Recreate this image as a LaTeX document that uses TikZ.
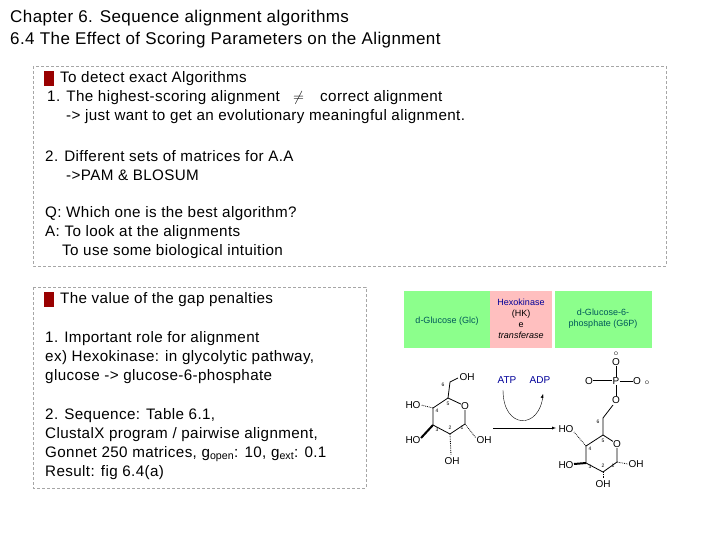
\documentclass[tikz,border=0pt]{standalone}
\usepackage{fontspec}
\setmainfont{Liberation Sans}
\newfontfamily\wide[LetterSpace=2.5]{Liberation Sans}
\begin{document}
\begin{tikzpicture}[x=1pt,y=-1pt,
  txt/.style={anchor=west,inner sep=0pt,font=\wide\fontsize{15.2}{17}\selectfont},
  head/.style={anchor=west,inner sep=0pt,font=\wide\fontsize{17}{18}\selectfont},
  dbox/.style={draw=gray!70,dashed,dash pattern=on 3pt off 2pt},
  lab/.style={inner sep=0pt,font=\fontsize{10}{11}\selectfont},
  hlab/.style={inner sep=0pt,font=\fontsize{9}{11}\selectfont},
  sm/.style={inner sep=0pt,font=\fontsize{5}{5}\selectfont},
  bond/.style={line width=0.8pt}]
\useasboundingbox (0,0) rectangle (720,540);
\node[head] (t1) at (10,18) {Chapter 6. Sequence alignment algorithms};
\node[head] (t2) at (10,40) {6.4 The Effect of Scoring Parameters on the Alignment};
\draw[dbox] (33,66) rectangle (666,266);
\fill[red!60!black] (44,71) rectangle (54,86);
\node[txt] (a1) at (60,79) {To detect exact Algorithms};
\node[txt] (a2) at (47,98) {1. The highest-scoring alignment};
\node[txt] (ne) at (293,98) {$\neq$};
\node[txt] (a2b) at (320,98) {correct alignment};
\node[txt] (a3) at (66,117) {-> just want to get an evolutionary meaningful alignment.};
\node[txt] (a4) at (45,156) {2. Different sets of matrices for A.A};
\node[txt] (a5) at (66,175) {->PAM \& BLOSUM};
\node[txt] (a6) at (45,214) {Q: Which one is the best algorithm?};
\node[txt] (a7) at (45,233) {A: To look at the alignments};
\node[txt] (a8) at (62,252) {To use some biological intuition};
\draw[dbox] (33,287) rectangle (366,488);
\fill[red!60!black] (44,292) rectangle (54,307);
\node[txt] (b1) at (60,300) {The value of the gap penalties};
\node[txt] (b2) at (45,339) {1. Important role for alignment};
\node[txt] (b3) at (45,358) {ex) Hexokinase: in glycolytic pathway,};
\node[txt] (b4) at (45,377) {glucose -> glucose-6-phosphate};
\node[txt] (b5) at (45,416) {2. Sequence: Table 6.1,};
\node[txt] (b6) at (45,435) {ClustalX program / pairwise alignment,};
\node[txt] (b7) at (45,454) {Gonnet 250 matrices, g$_{\mathrm{open}}$: 10, g$_{\mathrm{ext}}$: 0.1};
\node[txt] (b8) at (45,473) {Result: fig 6.4(a)};
% reaction header
\fill[green!45!white] (404,291) rectangle (490,348);
\fill[red!25!white] (490,291) rectangle (552,348);
\fill[green!45!white] (555,291) rectangle (652,348);
\node[hlab,text=teal!70!black] (g1) at (447,321) {\textsc{d}-Glucose (Glc)};
\node[hlab,align=center] (hk) at (521,319) {\textcolor{blue!60!black}{Hexokinase}\\(HK)\\e\\\textit{transferase}};
\node[hlab,align=center,text=teal!70!black] (g2) at (603,319) {\textsc{d}-Glucose-6-\\phosphate (G6P)};
% left glucose
\coordinate (c5) at (448,398); \coordinate (o1) at (465,406);
\coordinate (c1) at (465,424); \coordinate (c2) at (450,434);
\coordinate (c3) at (433,425); \coordinate (c4) at (433,408);
\draw[bond] (c5) -- (o1) -- (c1) -- (c2) -- (c3) -- (c4) -- (c5);
\draw[bond] (c5) -- (450,382) -- (458,378);
\node[lab] (oh6) at (467,377) {OH};
\node[lab] (oh4) at (413,405) {HO};
\node[lab] (oh3) at (413,440) {HO};
\node[lab] (oh1) at (484,440) {OH};
\node[lab] (oh2) at (452,461) {OH};
\draw[bond,densely dotted] (c4)--(421,405); \draw[line width=2pt] (c3)--(421,438);
\draw[bond,densely dotted] (c1)--(476,438); \draw[bond,densely dotted] (c2)--(451,455);
\node[sm] at (443,385) {6}; \node[sm] at (448,404) {5}; \node[sm] at (437,411) {4};
\node[sm] at (437,430) {3}; \node[sm] at (450,428) {2}; \node[sm] at (462,428) {1};
% arrow
\node[lab,text=blue!60!black] (atp) at (507,380) {ATP};
\node[lab,text=blue!60!black] (adp) at (540,380) {ADP};
\draw[-latex] (493,428) -- (556,428);
\draw (503,390) .. controls (503,430) and (540,430) .. (543,395);
\draw[-latex] (542,398) -- (543,394);
% right glucose-6-P
\coordinate (d5) at (603,435); \coordinate (p1) at (617,444);
\coordinate (d1) at (617,462); \coordinate (d2) at (603,472);
\coordinate (d3) at (586,463); \coordinate (d4) at (586,446);
\draw[bond] (d5) -- (p1) -- (d1) -- (d2) -- (d3) -- (d4) -- (d5);
\draw[bond] (d5) -- (603,418) -- (613,405);
\node[lab] (po) at (616,400) {O};
\node[lab] (p) at (616,381) {P};
\node[lab] (pot) at (616,362) {O};
\node[lab] (pdo) at (589,381) {O};
\node[lab] (pro) at (637,381) {O};
\node[sm] at (647,383) {O};
\draw (po)--(p); \draw (p)--(pot); \draw (p)--(pro);
\draw[double] (pdo)--(p);
\node[sm] at (616,354) {O};
\node[lab] (dh4) at (566,429) {HO};
\node[lab] (dh3) at (566,465) {HO};
\node[lab] (dh1) at (636,464) {OH};
\node[lab] (dh2) at (603,484) {OH};
\draw[bond,densely dotted] (d4)--(574,432); \draw[line width=2pt] (d3)--(574,464);
\draw[bond,densely dotted] (d1)--(628,464); \draw[bond,densely dotted] (d2)--(603,478);
\node[sm] at (598,422) {6}; \node[sm] at (603,441) {5};
\node[sm] at (590,449) {4}; \node[sm] at (590,467) {3};
\node[sm] at (603,466) {2}; \node[sm] at (613,466) {1};
\node[lab,fill=white,inner sep=0.5pt] at (617,444) {O};
\node[lab,fill=white,inner sep=0.5pt] at (465,406) {O};
\end{tikzpicture}
\end{document}
